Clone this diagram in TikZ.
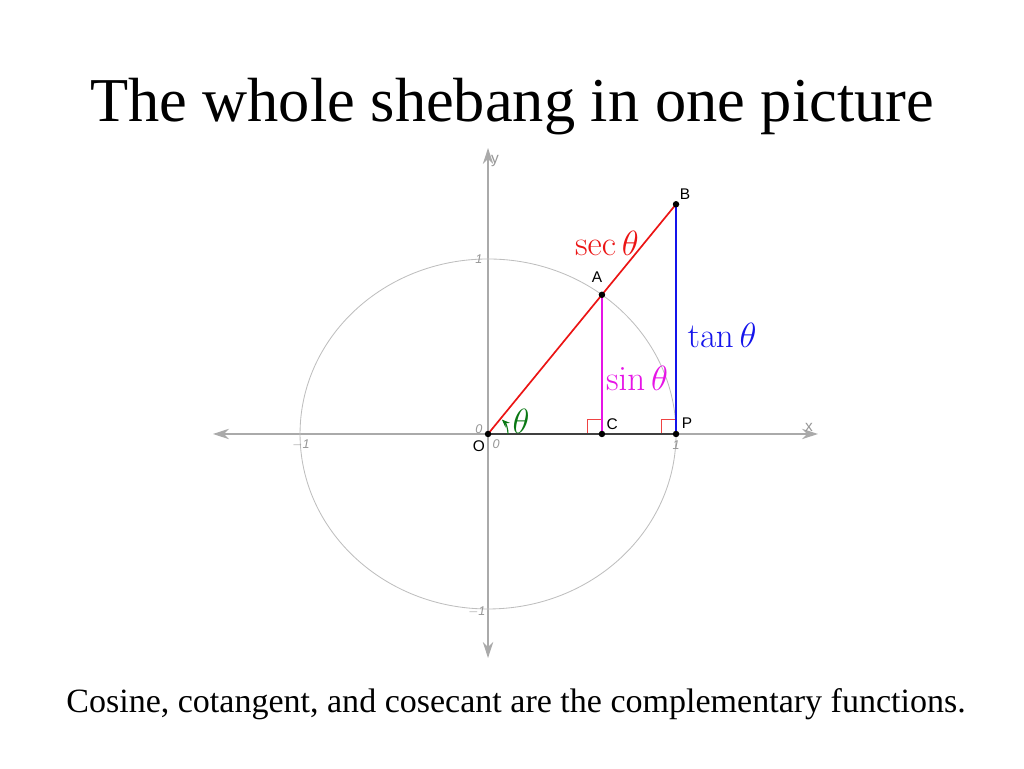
\documentclass[tikz,border=0pt]{standalone}
\usepackage{amsmath,amssymb}
\usepackage[no-math]{fontspec}
\setmainfont{Liberation Serif}
\setsansfont{Liberation Sans}
\usetikzlibrary{arrows.meta}

\definecolor{axisgray}{RGB}{170,170,170}
\definecolor{circlegray}{RGB}{190,190,190}
\definecolor{ticklabel}{RGB}{150,150,150}
\definecolor{secred}{RGB}{235,20,20}
\definecolor{tanblue}{RGB}{20,20,235}
\definecolor{sinmag}{RGB}{230,20,230}
\definecolor{thgreen}{RGB}{10,120,20}

\begin{document}
\begin{tikzpicture}[x=4.7cm,y=4.375cm,
  axis/.style={draw=axisgray,line width=0.8pt,{Stealth[length=4mm,width=2.6mm]}-{Stealth[length=4mm,width=2.6mm]}},
  tick/.style={font=\sffamily\itshape\fontsize{9}{10}\selectfont,text=ticklabel},
  ptlabel/.style={font=\sffamily\fontsize{11}{13}\selectfont},
  trig/.style={font=\fontsize{25}{30}\selectfont}]
  \useasboundingbox (-2.596,-1.909) rectangle (2.851,2.48);
  \def\th{52.7}
  \coordinate (O) at (0,0);
  \coordinate (A) at ({cos(\th)},{sin(\th)});
  \coordinate (C) at ({cos(\th)},0);
  \coordinate (P) at (1,0);
  \coordinate (B) at (1,{tan(\th)});
  % axes and unit circle
  \draw[axis] (-1.463,0) -- (1.755,0);
  \draw[axis] (0,-1.28) -- (0,1.634);
  \draw[circlegray,line width=0.6pt] (O) ellipse (1 and 1);
  \node[tick] (t0a) at (-0.048,0.029) {0};
  \node[tick] (t0b) at (0.043,-0.057) {0};
  \node[tick] (ty1) at (-0.048,1.0) {1};
  \node[tick] (tym) at (-0.059,-1.017) {$-$1};
  \node[tick] (tx1) at (1.0,-0.063) {1};
  \node[tick] (txm) at (-0.995,-0.063) {$-$1};
  \node[ptlabel,text=ticklabel] (xlab) at (1.707,0.04) {x};
  \node[ptlabel,text=ticklabel] (ylab) at (0.037,1.56) {y};
  % right angles
  \draw[secred!80,line width=0.7pt] ([xshift=-0.37cm]C) -- ++(0,0.35cm) -- ++(0.37cm,0);
  \draw[secred!80,line width=0.7pt] ([xshift=-0.37cm]P) -- ++(0,0.35cm) -- ++(0.37cm,0);
  % the triangles
  \draw[black!75,line width=1pt] (O) -- (P);
  \draw[sinmag,line width=1.2pt] (C) -- (A);
  \draw[tanblue,line width=1.2pt] (P) -- (B);
  \draw[secred,line width=1.2pt] (O) -- (B);
  \draw[thgreen,line width=0.8pt,-{Stealth[length=2mm,width=1.6mm]}] ([xshift=0.5cm]O) arc (0:46:0.5cm);
  \foreach \p in {O,A,B,C,P} \fill (\p) circle (2.3pt);
  \node[trig,text=secred] (seclab) at (0.633,1.091) {$\sec\theta$};
  \node[trig,text=tanblue] (tanlab) at (1.245,0.566) {$\tan\theta$};
  \node[trig,text=sinmag] (sinlab) at (0.793,0.32) {$\sin\theta$};
  \node[trig,text=thgreen] (thlab) at (0.176,0.074) {$\theta$};
  \node[ptlabel] (Alab) at (0.580,0.897) {A};
  \node[ptlabel] (Blab) at (1.048,1.371) {B};
  \node[ptlabel] (Clab) at (0.660,0.057) {C};
  \node[ptlabel] (Plab) at (1.059,0.063) {P};
  \node[ptlabel] (Olab) at (-0.048,-0.069) {O};
  % title and caption
  \node[anchor=base,font=\fontsize{44.4}{50}\selectfont] (title) at (0.128,1.783) {The whole shebang in one picture};
  \node[anchor=base,font=\fontsize{24.2}{28}\selectfont] (caption) at (0.149,-1.589) {Cosine, cotangent, and cosecant are the complementary functions.};
\end{tikzpicture}
\end{document}
